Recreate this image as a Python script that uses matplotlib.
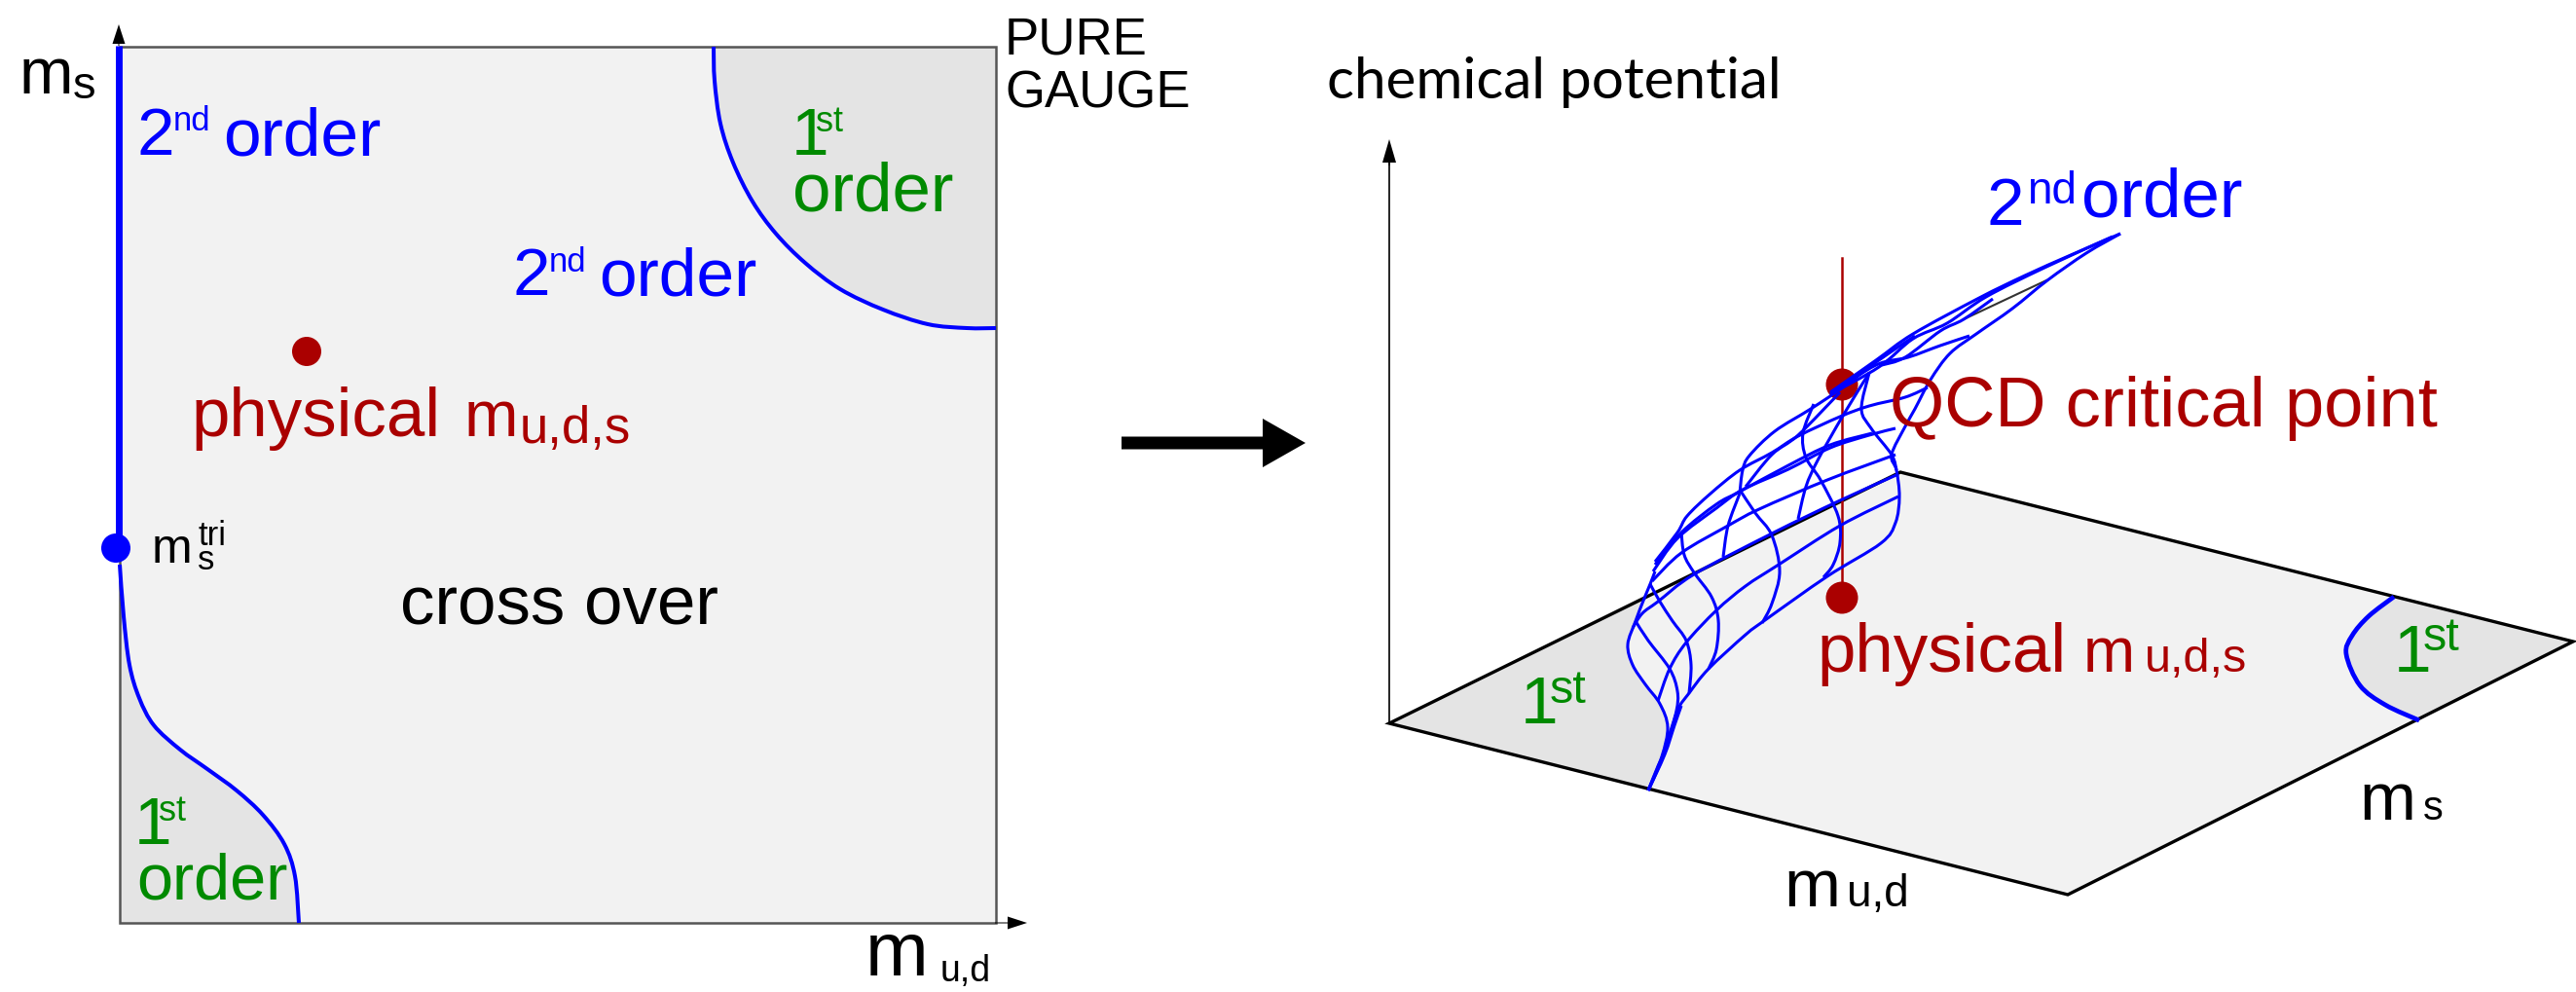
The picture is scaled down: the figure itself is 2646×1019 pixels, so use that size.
import numpy as np
import matplotlib
matplotlib.use("Agg")
import matplotlib.pyplot as plt
from matplotlib.path import Path
from matplotlib.patches import PathPatch, Polygon, Circle, FancyArrow

plt.rcParams['font.family'] = ['Liberation Sans', 'DejaVu Sans']

BLUE = "#0000ff"
RED = "#aa0000"
GREEN = "#008a00"
LIGHT = "#f2f2f2"
GREY = "#e4e4e4"

# left panel, all in image pixels
box = [(123, 48), (1023, 48), (1023, 948), (123, 948)]
curve_top_right = [(733, 48), (734, 83), (740, 127), (753, 167), (773, 207), (797, 240), (827, 270), (863, 297), (907, 318), (953, 333), (993, 337), (1023, 337)]
curve_bottom_left = [(123, 580), (127, 633), (133, 683), (143, 717), (158, 745), (185, 770), (213, 790), (243, 812), (270, 837), (292, 867), (303, 900), (307, 948)]
tricritical = (119, 563)
physical_left = (315, 361)

# right panel, base plane
plane = [(1427, 743), (2124, 919), (2643, 659), (1952, 485)]
first_left_edge = [(1693, 812), (1707, 777), (1713, 747), (1705, 723), (1690, 703), (1677, 683), (1672, 662), (1680, 638), (1688, 612)]
first_right_edge = [(2459, 613), (2433, 633), (2416, 653), (2410, 672), (2424, 704), (2450, 724), (2485, 740)]
critical_point = (1892, 395)
physical_right = (1892, 614)

# 3d wireframe
mesh_long = [
    [(1693, 812), (1703, 787), (1712, 767), (1723, 730), (1735, 712), (1755, 687), (1793, 652), (1813, 637), (1877, 592), (1932, 558), (1947, 537), (1951, 510), (1948, 483), (1943, 467), (1957, 438), (1967, 420), (1983, 390), (2003, 363), (2030, 343), (2067, 317), (2103, 288), (2143, 260), (2178, 240)],
    [(1703, 720), (1715, 687), (1732, 660), (1763, 627), (1793, 602), (1827, 580), (1890, 540), (1950, 510)],
    [(1677, 645), (1687, 630), (1703, 618), (1740, 590), (1820, 548), (1888, 515), (1950, 487)],
    [(1697, 597), (1727, 568), (1775, 540), (1807, 523), (1877, 493), (1947, 467)],
    [(1698, 587), (1723, 553), (1763, 522), (1790, 503), (1837, 482), (1880, 460), (1920, 447), (1947, 440)],
    [(1700, 580), (1727, 547), (1763, 518), (1787, 505), (1837, 478), (1880, 457), (1923, 445)],
    [(1700, 577), (1723, 547), (1733, 530), (1757, 507), (1787, 483), (1820, 465), (1847, 448), (1890, 428), (1920, 417), (1957, 408), (1980, 398)],
    [(1693, 812), (1707, 777), (1713, 747), (1705, 723), (1690, 703), (1677, 683), (1672, 662), (1680, 638), (1688, 617), (1695, 600), (1700, 587)],
    [(1787, 507), (1790, 483), (1797, 468), (1823, 443), (1860, 420), (1893, 398), (1927, 372), (1967, 345)],
    [(1880, 403), (1927, 370), (1965, 343), (2033, 306), (2080, 283), (2127, 262), (2178, 240)],
    [(1880, 405), (1930, 377), (1965, 348), (2000, 332), (2040, 305), (2100, 275), (2170, 243)],
    [(1880, 405), (1927, 375), (1960, 367), (1993, 355), (2023, 345)],
    [(1933, 375), (1957, 367), (1993, 340), (2017, 328), (2047, 307)],
]
mesh_cross = [
    [(1680, 638), (1693, 658), (1715, 687), (1723, 710), (1722, 730), (1713, 760), (1705, 785), (1693, 812)],
    [(1695, 600), (1705, 618), (1718, 638), (1732, 658), (1737, 683), (1735, 712)],
    [(1727, 547), (1730, 570), (1740, 588), (1758, 613), (1765, 637), (1763, 667), (1755, 687)],
    [(1787, 503), (1803, 527), (1820, 550), (1828, 587), (1820, 620), (1810, 640)],
    [(1863, 415), (1852, 445), (1855, 470), (1870, 493), (1888, 530), (1890, 557), (1883, 580), (1873, 593)],
    [(1920, 383), (1912, 420), (1922, 440), (1943, 467), (1948, 483)],
    [(1770, 572), (1775, 540), (1787, 507)],
    [(1847, 533), (1855, 500), (1867, 473), (1893, 427), (1920, 383)],
    [(1793, 500), (1820, 467), (1847, 447), (1890, 403)],
    [(1693, 812), (1710, 775), (1720, 745), (1727, 725)],
]
mesh_dark = [(2017, 328), (2102, 288)]


def smooth(points, corners=()):
    # catmull-rom through the points as bezier segments, optional corners close it
    pts = np.array(points, dtype=float)
    p = np.vstack([pts[0], pts, pts[-1]])
    verts = [pts[0]]
    codes = [Path.MOVETO]
    for i in range(1, len(p) - 2):
        verts += [p[i] + (p[i + 1] - p[i - 1]) / 6, p[i + 1] - (p[i + 2] - p[i]) / 6, p[i + 1]]
        codes += [Path.CURVE4] * 3
    if len(corners):
        for c in corners:
            verts.append(c)
            codes.append(Path.LINETO)
        verts.append(pts[0])
        codes.append(Path.CLOSEPOLY)
    return Path(verts, codes)


def txt(x, y, s, size, color="black", **kw):
    ax.text(x, y, s, fontsize=size, color=color, ha="left", va="baseline", **kw)


fig = plt.figure(figsize=(26.46, 10.19), dpi=100)
ax = fig.add_axes([0, 0, 1, 1])
ax.set_xlim(0, 2646)
ax.set_ylim(1019, 0)
ax.axis("off")

# left panel
ax.add_patch(Polygon(box, closed=True, fc=LIGHT, ec="none", zorder=1))
ax.add_patch(PathPatch(smooth(curve_top_right, [box[1]]), fc=GREY, ec="none", zorder=1.2))
ax.add_patch(PathPatch(smooth(curve_bottom_left, [box[3]]), fc=GREY, ec="none", zorder=1.2))
ax.add_patch(Polygon(box, closed=True, fc="none", ec="#555555", lw=1.8, zorder=1.5))
for c in (curve_top_right, curve_bottom_left):
    ax.add_patch(PathPatch(smooth(c), fc="none", ec=BLUE, lw=2.9, zorder=3))
ax.plot([122, 122], [47, 565], color=BLUE, lw=5, solid_capstyle="butt", zorder=3)
ax.add_patch(Circle(tricritical, 15, fc=BLUE, ec="none", zorder=4))
ax.add_patch(Circle(physical_left, 15, fc=RED, ec="none", zorder=4))
ax.add_patch(FancyArrow(122, 47, 0, -22, width=1, head_width=13, head_length=20, length_includes_head=True, fc="black", ec="none", zorder=2))
ax.add_patch(FancyArrow(1022, 948, 33, 0, width=1, head_width=13, head_length=20, length_includes_head=True, fc="black", ec="none", zorder=2))

txt(20, 96, "m", 48)
txt(75, 101, "s", 34)
txt(140, 159, "2", 50, BLUE)
txt(178, 134, "nd", 25, BLUE)
txt(229, 159, "order", 50, BLUE)
txt(526, 303, "2", 50, BLUE)
txt(564, 279, "nd", 25, BLUE)
txt(615, 303, "order", 50, BLUE)
txt(813, 159, "1", 50, GREEN)
txt(838, 135, "st", 26, GREEN)
txt(814, 216, "order", 51, GREEN)
txt(138, 867, "1", 50, GREEN)
txt(163, 843, "st", 26, GREEN)
txt(140, 923, "order", 48, GREEN)
txt(1032, 55, "PURE", 38)
txt(1032, 110, "GAUGE", 38)
txt(196, 448, "physical", 51, RED)
txt(477, 448, "m", 48, RED)
txt(534, 455, "u,d,s", 38, RED)
txt(156, 578, "m", 36)
txt(203, 560, "tri", 25)
txt(203, 585, "s", 25)
txt(411, 642, "cross over", 51)
txt(889, 1002, "m", 56)
txt(966, 1008, "u,d", 27)

# big arrow between panels
ax.add_patch(FancyArrow(1152, 455, 189, 0, width=13, head_width=50, head_length=44, length_includes_head=True, fc="black", ec="none", zorder=2))

# right panel
ax.add_patch(Polygon(plane, closed=True, fc=LIGHT, ec="none", zorder=1))
ax.add_patch(PathPatch(smooth(first_left_edge, [plane[0]]), fc=GREY, ec="none", zorder=1.5))
ax.add_patch(PathPatch(smooth(first_right_edge, [plane[2]]), fc=GREY, ec="none", zorder=1.5))
ax.add_patch(Polygon(plane, closed=True, fc="none", ec="black", lw=2.4, zorder=1.8))
ax.plot([1427, 1427], [743, 165], color="black", lw=1.2, zorder=1.8)
ax.add_patch(FancyArrow(1427, 170, 0, -27, width=1, head_width=14, head_length=24, length_includes_head=True, fc="black", ec="none", zorder=2))
ax.add_patch(PathPatch(smooth(first_right_edge), fc="none", ec=BLUE, lw=3.4, zorder=3))

ax.plot([1892, 1892], [265, 614], color=RED, lw=1.8, zorder=2)
ax.add_patch(Circle(critical_point, 16.5, fc=RED, ec="none", zorder=2.5))
ax.add_patch(Circle(physical_right, 16.5, fc=RED, ec="none", zorder=2.5))
ax.plot([mesh_dark[0][0], mesh_dark[1][0]], [mesh_dark[0][1], mesh_dark[1][1]], color="#333333", lw=1.5, zorder=2.5)
for c in mesh_long + mesh_cross:
    ax.add_patch(PathPatch(smooth(c), fc="none", ec=BLUE, lw=2.2, zorder=3))

txt(1363, 101, "chemical potential", 42, family=["Lato", "DejaVu Sans"])
txt(2040, 231, "2", 50, BLUE)
txt(2082, 209, "nd", 33, BLUE)
txt(2138, 222, "order", 51, BLUE)
txt(1941, 438, "QCD critical point", 52, RED)
txt(1866, 690, "physical", 51, RED)
txt(2140, 690, "m", 46, RED)
txt(2203, 690, "u,d,s", 35, RED)
txt(1562, 743, "1", 50, GREEN)
txt(1592, 722, "st", 35, GREEN)
txt(2459, 690, "1", 50, GREEN)
txt(2489, 668, "st", 35, GREEN)
txt(1832, 931, "m", 50)
txt(1897, 931, "u,d", 33)
txt(2423, 842, "m", 50)
txt(2489, 842, "s", 30)

fig.savefig("out.png", dpi=100)
